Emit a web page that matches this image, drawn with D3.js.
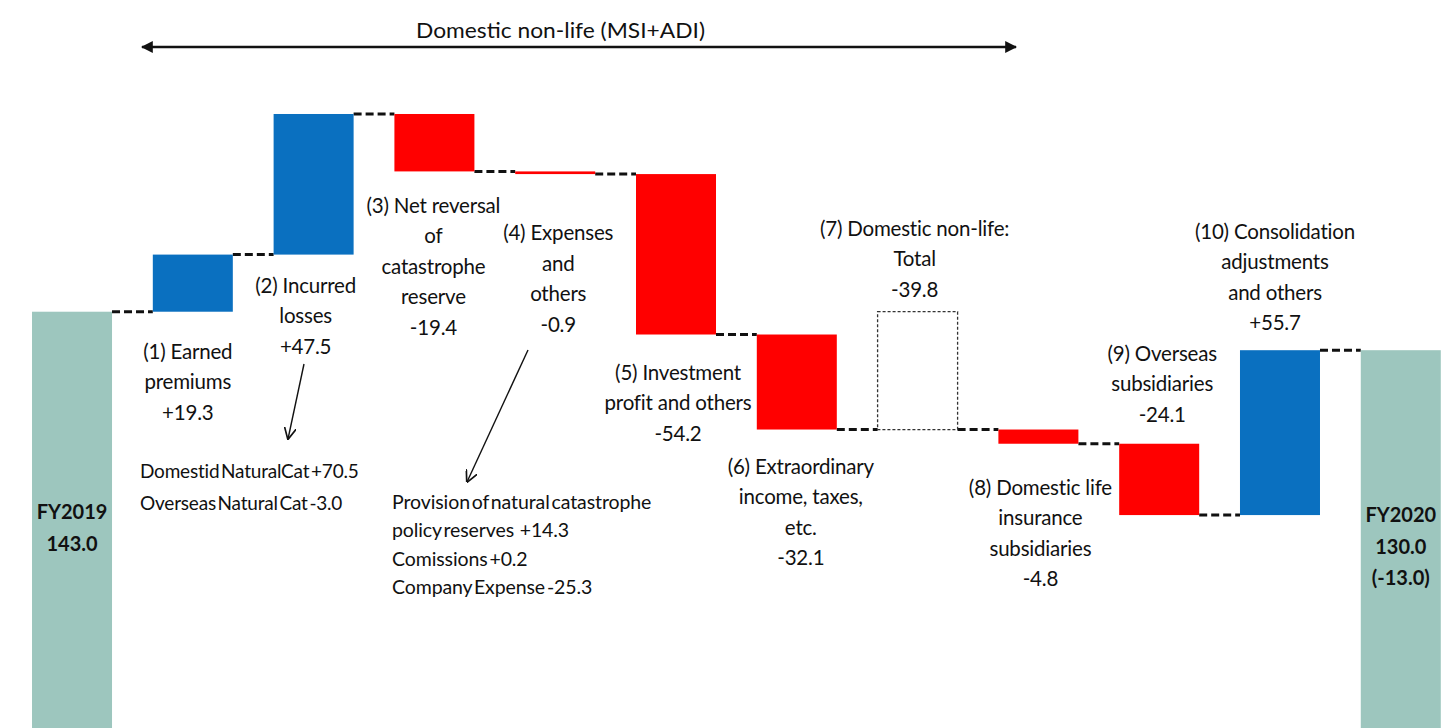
<!DOCTYPE html>
<html>
<head>
<meta charset="utf-8">
<script src="https://cdn.jsdelivr.net/npm/d3@7"></script>
<style>
  html, body { margin: 0; padding: 0; background: #ffffff; }
  svg { display: block; }
  text { font-family: Lato, "Liberation Sans", sans-serif; fill: #111; }
</style>
</head>
<body>
<svg id="chart" width="1445" height="728"></svg>
<script>
// Net income bridge, FY2019 -> FY2020 (billion yen)
const categories = ["FY2019", "(1)", "(2)", "(3)", "(4)", "(5)", "(6)", "(7)", "(8)", "(9)", "(10)", "FY2020"];
const kinds      = ["start", "delta", "delta", "delta", "delta", "delta", "delta", "subtotal", "delta", "delta", "delta", "end"];
const values     = [143.0, 19.3, 47.5, -19.4, -0.9, -54.2, -32.1, -39.8, -4.8, -24.1, 55.7, 130.0];

const labelLines = [
  [],
  ["(1) Earned", "premiums"],
  ["(2) Incurred", "losses"],
  ["(3) Net reversal", "of", "catastrophe", "reserve"],
  ["(4) Expenses", "and", "others"],
  ["(5) Investment", "profit and others"],
  ["(6) Extraordinary", "income, taxes,", "etc."],
  ["(7) Domestic non-life:", "Total"],
  ["(8) Domestic life", "insurance", "subsidiaries"],
  ["(9) Overseas", "subsidiaries"],
  ["(10) Consolidation", "adjustments", "and others"],
  []
];

const headerText = "Domestic non-life (MSI+ADI)";
const noteIncurred = ["Domestid NaturalCat +70.5", "Overseas Natural Cat -3.0"];
const noteExpenses = ["Provision of natural catastrophe", "policy reserves\u00a0\u00a0 +14.3", "Comissions +0.2", "Company Expense -25.3"];

// label placement: side of the bar, gap in px from that bar edge, horizontal nudge
const labelLayout = [
  null,
  { side: "below", gap: 40, dx: -5 },
  { side: "below", gap: 31, dx: -8 },
  { side: "below", gap: 34, dx: -1 },
  { side: "below", gap: 59, dx: 3 },
  { side: "below", gap: 38, dx: 2 },
  { side: "below", gap: 37, dx: 4 },
  { side: "above", gap: 22, dx: -3 },
  { side: "below", gap: 44, dx: 2 },
  { side: "above", gap: 29, dx: 3 },
  { side: "above", gap: 27, dx: -5 },
  null
];

const colors = { up: "#0a70c0", down: "#ff0000", total: "#9dc6be" };
const lineH = 30.5;

// running totals; the subtotal box spans from the opening level to the level after (1)-(6)
const bars = [];
let level = 0;
values.forEach((v, i) => {
  const k = kinds[i];
  let y0, y1, end;
  if (k === "start" || k === "end") { y0 = 0; y1 = v; level = v; end = v; }
  else if (k === "subtotal") { y0 = values[0]; y1 = values[0] + v; end = y1; }
  else { y0 = level; y1 = level + v; level = y1; end = y1; }
  bars.push({ cat: categories[i], kind: k, value: v, lo: Math.min(y0, y1), hi: Math.max(y0, y1), end: end });
});

const svg = d3.select("#chart");
const x = d3.scaleBand().domain(categories).range([11.6, 1461.2]).paddingInner(0.3377).paddingOuter(0.169);
const y = d3.scaleLinear().domain([0, 250]).range([735, -5]);

const fmt = v => (v > 0 ? "+" : "-") + Math.abs(v).toFixed(1);

// connectors between consecutive bars
const conn = svg.append("g");
for (let i = 0; i < bars.length - 1; i++) {
  const lv = bars[i].end;
  conn.append("line")
    .attr("x1", x(categories[i]) + x.bandwidth())
    .attr("x2", x(categories[i + 1]))
    .attr("y1", y(lv)).attr("y2", y(lv))
    .attr("stroke", "#111").attr("stroke-width", 3)
    .attr("stroke-dasharray", "8,4");
}

// bars
svg.append("g").selectAll("rect").data(bars).join("rect")
  .attr("x", d => x(d.cat))
  .attr("width", x.bandwidth())
  .attr("y", d => y(d.hi))
  .attr("height", d => y(d.lo) - y(d.hi))
  .attr("fill", d => d.kind === "subtotal" ? "none" : (d.kind === "start" || d.kind === "end") ? colors.total : (d.value > 0 ? colors.up : colors.down))
  .attr("stroke", d => d.kind === "subtotal" ? "#333" : "none")
  .attr("stroke-width", 1.3)
  .attr("stroke-dasharray", d => d.kind === "subtotal" ? "3,2" : null);

// category labels with values
const lab = svg.append("g").attr("font-size", 20.5);
bars.forEach((b, i) => {
  const L = labelLayout[i];
  if (!L) return;
  const lines = labelLines[i].concat([fmt(b.value)]);
  const cx = x(b.cat) + x.bandwidth() / 2 + L.dx;
  let firstY;
  if (L.side === "below") firstY = y(b.lo) + L.gap;
  else firstY = y(b.hi) - L.gap - (lines.length - 1) * lineH;
  lines.forEach((t, j) => {
    lab.append("text")
      .attr("x", cx).attr("y", firstY + j * lineH)
      .attr("dy", "0.35em")
      .attr("text-anchor", "middle")
      .attr("letter-spacing", -0.2)
      .text(t);
  });
});

// start and end totals inside bars
const first = bars[0], last = bars[bars.length - 1];
const startLines = [first.cat, first.value.toFixed(1)];
const endLines = [last.cat, last.value.toFixed(1), "(" + fmt(last.value - first.value) + ")"];
[[first, startLines, 512], [last, endLines, 515]].forEach(([b, lines, y0]) => {
  lines.forEach((t, j) => {
    svg.append("text")
      .attr("x", x(b.cat) + x.bandwidth() / 2)
      .attr("y", y0 + j * 31.5)
      .attr("dy", "0.35em")
      .attr("text-anchor", "middle")
      .attr("font-size", 20).attr("font-weight", "bold")
      .text(t);
  });
});

// header span arrow
const defs = svg.append("defs");
defs.append("marker").attr("id", "solidHead")
  .attr("viewBox", "0 0 10 10").attr("refX", 9).attr("refY", 5)
  .attr("markerWidth", 5).attr("markerHeight", 5).attr("orient", "auto-start-reverse")
  .attr("markerUnits", "strokeWidth")
  .append("path").attr("d", "M0,0 L10,5 L0,10 Z").attr("fill", "#111");
defs.append("marker").attr("id", "openHead")
  .attr("viewBox", "0 0 10 10").attr("refX", 9.5).attr("refY", 5)
  .attr("markerWidth", 12).attr("markerHeight", 12).attr("orient", "auto")
  .attr("markerUnits", "userSpaceOnUse")
  .append("path").attr("d", "M0,0 L10,5 L0,10").attr("fill", "none").attr("stroke", "#111").attr("stroke-width", 1.4);

svg.append("line")
  .attr("x1", 142).attr("x2", 1016).attr("y1", 47).attr("y2", 47)
  .attr("stroke", "#111").attr("stroke-width", 2.4)
  .attr("marker-start", "url(#solidHead)").attr("marker-end", "url(#solidHead)");
svg.append("text")
  .attr("x", 416).attr("y", 30).attr("dy", "0.35em")
  .attr("font-size", 22)
  .attr("textLength", 289).attr("lengthAdjust", "spacingAndGlyphs")
  .text(headerText);

// breakdown notes
svg.append("line").attr("x1", 304).attr("y1", 364).attr("x2", 288).attr("y2", 439)
  .attr("stroke", "#111").attr("stroke-width", 1.4).attr("marker-end", "url(#openHead)");
svg.append("line").attr("x1", 528).attr("y1", 350).attr("x2", 467).attr("y2", 482)
  .attr("stroke", "#111").attr("stroke-width", 1.4).attr("marker-end", "url(#openHead)");

noteIncurred.forEach((t, j) => {
  svg.append("text").attr("x", 140).attr("y", 471 + j * 32).attr("dy", "0.35em")
    .attr("font-size", 19).attr("letter-spacing", -0.2).attr("word-spacing", -3).text(t);
});
noteExpenses.forEach((t, j) => {
  svg.append("text").attr("x", 392).attr("y", 502 + j * 28.5).attr("dy", "0.35em")
    .attr("font-size", 19.5).attr("letter-spacing", -0.1).attr("word-spacing", -3)
    .text(t);
});
</script>
</body>
</html>
